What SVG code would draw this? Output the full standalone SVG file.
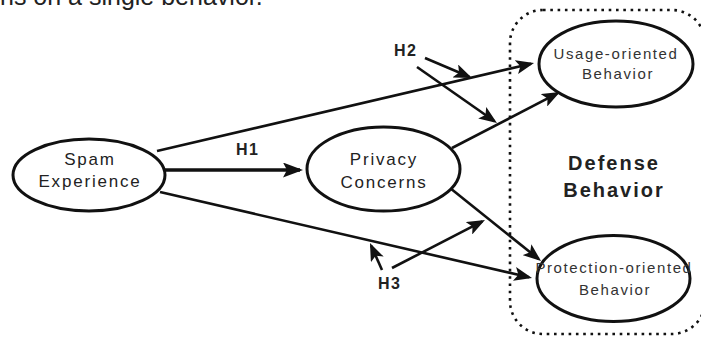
<svg xmlns="http://www.w3.org/2000/svg" width="701" height="339" viewBox="0 0 701 339">
  <style>
    .node { fill: #fff; stroke: #111; stroke-width: 3; }
    .lbl { font-family: "Liberation Sans", Arial, sans-serif; fill: #222; text-anchor: middle; }
    .big { font-size: 17px; letter-spacing: 1.8px; }
    .small { font-size: 15px; letter-spacing: 1.6px; fill: #333; }
    .hyp { font-family: "Liberation Sans", Arial, sans-serif; font-weight: bold; font-size: 16px; letter-spacing: 1.5px; fill: #222; }
    .edge { fill: none; stroke: #111; stroke-width: 2.6; marker-end: url(#head); }
    .boundary { fill: none; stroke: #111; stroke-width: 2.6; stroke-dasharray: 2.6 4.7; }
  </style>
  <defs>
    <marker id="head" markerUnits="userSpaceOnUse" viewBox="0 0 18 14" refX="15" refY="7" markerWidth="18" markerHeight="14" orient="auto">
      <path d="M0,0 L18,7 L0,14 L4,7 Z" fill="#111"/>
    </marker>
    <marker id="headBig" markerUnits="userSpaceOnUse" viewBox="0 0 20 15" refX="17" refY="7.5" markerWidth="20" markerHeight="15" orient="auto">
      <path d="M0,0 L20,7.5 L0,15 L4,7.5 Z" fill="#111"/>
    </marker>
  </defs>

  <!-- running text cut at the top edge -->
  <text x="0" y="5" font-family="'Liberation Sans', Arial, sans-serif" font-size="25" fill="#222">ns on a single behavior.</text>

  <!-- dotted boundary of the defense behavior construct -->
  <g id="defense-behavior">
    <rect class="boundary" x="510" y="10" width="195" height="324" rx="33" ry="33"/>
    <text class="lbl" x="614" y="170" font-size="20" font-weight="bold" letter-spacing="2">Defense</text>
    <text class="lbl" x="614" y="197" font-size="20" font-weight="bold" letter-spacing="2">Behavior</text>
  </g>

  <g id="connectors">
    <line x1="165" y1="170" x2="300" y2="170" fill="none" stroke="#111" stroke-width="3.5" marker-end="url(#headBig)"/>
    <line class="edge" x1="157" y1="151" x2="531.1" y2="63.7"/>
    <line class="edge" x1="452" y1="148" x2="557.3" y2="93.4"/>
    <line class="edge" x1="160" y1="192" x2="529.1" y2="277.3"/>
    <line class="edge" x1="450" y1="188" x2="538.7" y2="259.1"/>
    <line class="edge" x1="425" y1="58" x2="469.2" y2="76.8"/>
    <line class="edge" x1="417" y1="67" x2="494.5" y2="121.3"/>
    <line class="edge" x1="392" y1="268" x2="482.3" y2="221.4"/>
    <line class="edge" x1="382" y1="270" x2="371.2" y2="245.7"/>
  </g>

  <g id="hypotheses">
    <text class="hyp" x="236" y="155">H1</text>
    <text class="hyp" x="394" y="56">H2</text>
    <text class="hyp" x="378" y="289">H3</text>
  </g>

  <g id="spam-experience">
    <ellipse class="node" cx="89" cy="175" rx="76" ry="36"/>
    <text class="lbl big" x="90" y="165">Spam</text>
    <text class="lbl big" x="90" y="187">Experience</text>
  </g>

  <g id="privacy-concerns">
    <ellipse class="node" cx="383.5" cy="169" rx="76.5" ry="42"/>
    <text class="lbl big" x="384" y="165">Privacy</text>
    <text class="lbl big" x="384" y="188">Concerns</text>
  </g>

  <g id="usage-oriented">
    <ellipse class="node" cx="616" cy="64" rx="77" ry="43"/>
    <text class="lbl small" x="616" y="59">Usage-oriented</text>
    <text class="lbl small" x="618" y="79">Behavior</text>
  </g>

  <g id="protection-oriented">
    <ellipse class="node" cx="613.5" cy="278.5" rx="76.5" ry="43"/>
    <text class="lbl small" x="614" y="273" letter-spacing="1.3">Protection-oriented</text>
    <text class="lbl small" x="615" y="295">Behavior</text>
  </g>
</svg>
